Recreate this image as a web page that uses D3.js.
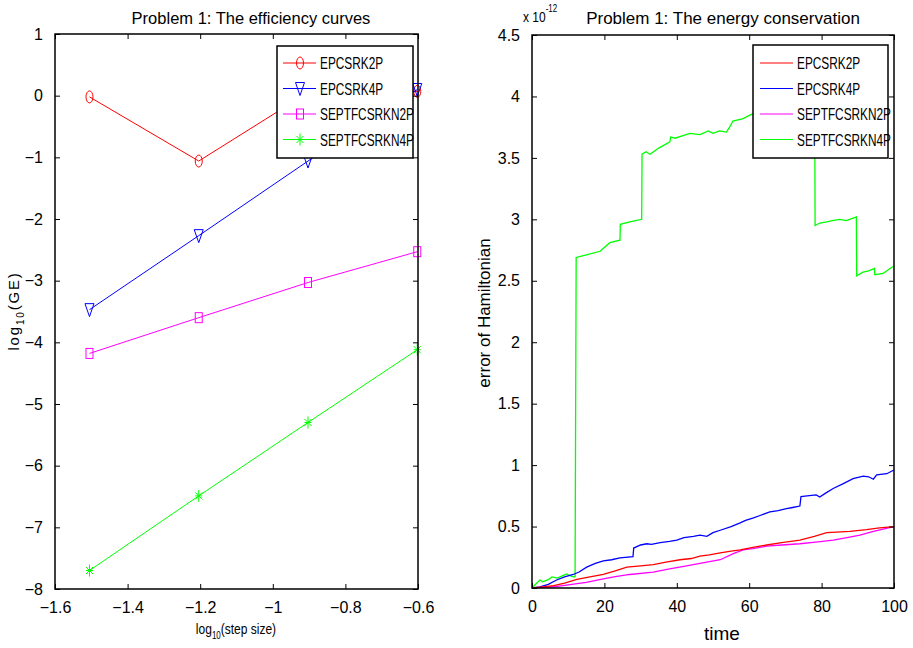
<!DOCTYPE html>
<html lang="en">
<head>
<meta charset="UTF-8">
<title>Problem 1</title>
<style>
    body { margin: 0; background: #fff; font-family: "Liberation Sans", Arial, sans-serif; }
    .frame { fill: none; stroke: #000; stroke-width: 1.5px; }
    .tick line { stroke: #000; stroke-width: 1px; }
    .tick text { font-size: 16px; fill: #000; }
</style>
<script src="https://d3js.org/d3.v7.min.js"></script>
</head>
<body>
<svg width="913" height="648"></svg>
<script>
// ---- left panel: efficiency curves ----
var stepSize = [-1.505, -1.204, -0.903, -0.602];
var ge_EPCSRK2P = [-0.02, -1.06, 0.05, 0.07];
var ge_EPCSRK4P = [-3.47, -2.27, -1.06, 0.1];
var ge_SEPTFCSRKN2P = [-4.18, -3.6, -3.03, -2.53];
var ge_SEPTFCSRKN4P = [-7.7, -6.49, -5.3, -4.12];
var leftXTicks = [-1.6, -1.4, -1.2, -1, -0.8, -0.6];
var leftYTicks = [1, 0, -1, -2, -3, -4, -5, -6, -7, -8];

// ---- right panel: energy conservation (units of 1e-12) ----
var t_EPCSRK2P = [0, 3, 6, 9, 12.4, 16, 19.7, 23, 26.2, 30, 33.5, 37, 40.9, 44, 46.4, 49, 52, 55, 57.5, 61, 64.8, 69, 74, 78, 81.4, 84, 87.8, 92.4, 96, 100];
var h_EPCSRK2P = [0, 0.01, 0.02, 0.04, 0.07, 0.09, 0.11, 0.14, 0.17, 0.18, 0.19, 0.21, 0.23, 0.24, 0.26, 0.27, 0.285, 0.3, 0.31, 0.33, 0.35, 0.37, 0.39, 0.42, 0.45, 0.455, 0.46, 0.475, 0.49, 0.5];
var t_EPCSRK4P = [0, 2.2, 4.5, 6.8, 9, 11.4, 13, 15.1, 17.5, 19.7, 22, 24.3, 27.9, 28.1, 30, 31.7, 33, 35.4, 38, 40, 42, 44.6, 46.4, 48.3, 50, 52, 55, 57.5, 59, 61.2, 63, 65.7, 68, 70.3, 72, 74, 74.3, 76, 78.5, 79.5, 81, 83.2, 86, 88.7, 91.5, 93, 94.3, 95.2, 98, 100];
var h_EPCSRK4P = [0, 0.01, 0.03, 0.065, 0.09, 0.11, 0.13, 0.17, 0.2, 0.22, 0.23, 0.245, 0.255, 0.325, 0.35, 0.36, 0.355, 0.37, 0.38, 0.39, 0.41, 0.42, 0.43, 0.42, 0.45, 0.47, 0.5, 0.53, 0.55, 0.57, 0.59, 0.62, 0.63, 0.645, 0.655, 0.667, 0.743, 0.75, 0.757, 0.74, 0.77, 0.81, 0.85, 0.89, 0.91, 0.905, 0.885, 0.92, 0.93, 0.96];
var t_SEPTFCSRKN2P = [0, 3, 6, 10, 15, 19, 22.6, 27, 33.5, 38, 42.7, 46.4, 52, 55.6, 58.3, 61, 64.8, 69, 74, 79, 83.2, 87, 90.6, 94.3, 97, 100];
var h_SEPTFCSRKN2P = [0, 0.005, 0.01, 0.025, 0.045, 0.07, 0.09, 0.11, 0.13, 0.155, 0.18, 0.2, 0.23, 0.28, 0.31, 0.32, 0.34, 0.35, 0.36, 0.375, 0.39, 0.41, 0.43, 0.46, 0.48, 0.5];
var t_SEPTFCSRKN4P = [0, 1, 2.2, 3, 4.6, 5.5, 7, 8.5, 9.6, 10.5, 11.4, 11.9, 12.2, 15, 18.8, 21.5, 24.3, 24.4, 27, 30.3, 30.4, 31.5, 32.6, 35, 38.1, 38.3, 39.5, 41.5, 43.6, 46.4, 48.7, 50, 51.8, 53.7, 54.6, 55.5, 58.3, 61, 64, 68, 72, 75, 78.1, 78.2, 79.5, 81.4, 83, 85, 86.8, 88.7, 89.6, 89.7, 91.4, 93, 94.6, 94.7, 97, 98.9, 100];
var h_SEPTFCSRKN4P = [0, 0.03, 0.065, 0.05, 0.07, 0.09, 0.08, 0.1, 0.114, 0.1, 0.09, 0.09, 2.69, 2.71, 2.74, 2.81, 2.83, 2.96, 2.98, 3.0, 3.53, 3.55, 3.53, 3.58, 3.63, 3.67, 3.66, 3.68, 3.7, 3.69, 3.72, 3.7, 3.72, 3.71, 3.75, 3.8, 3.82, 3.86, 3.89, 3.93, 3.96, 3.98, 3.98, 2.95, 2.97, 2.98, 2.99, 3.0, 2.99, 3.01, 3.02, 2.54, 2.57, 2.58, 2.6, 2.55, 2.56, 2.6, 2.62];
var rightXTicks = [0, 20, 40, 60, 80, 100];
var rightYTicks = [0, 0.5, 1, 1.5, 2, 2.5, 3, 3.5, 4, 4.5];

var names = ["EPCSRK2P", "EPCSRK4P", "SEPTFCSRKN2P", "SEPTFCSRKN4P"];
var colors = ["#ff0000", "#0000ff", "#ff00ff", "#00ff00"];

var svg = d3.select("svg");

function drawFrame(x, y, xTicks, yTicks, xFmt, yFmt) {
    var x0 = x.range()[0], x1 = x.range()[1], y0 = y.range()[0], y1 = y.range()[1];
    var g = svg.append("g");
    g.append("g").attr("transform", "translate(0," + y0 + ")")
        .call(d3.axisBottom(x).tickValues(xTicks).tickSize(-5).tickSizeOuter(0).tickPadding(13).tickFormat(xFmt))
        .call(function(a) { a.select(".domain").remove(); });
    g.append("g").attr("transform", "translate(0," + y1 + ")")
        .call(d3.axisTop(x).tickValues(xTicks).tickSize(-5).tickSizeOuter(0).tickFormat(""))
        .call(function(a) { a.select(".domain").remove(); });
    g.append("g").attr("transform", "translate(" + x0 + ",0)")
        .call(d3.axisLeft(y).tickValues(yTicks).tickSize(-5).tickSizeOuter(0).tickPadding(12).tickFormat(yFmt))
        .call(function(a) { a.select(".domain").remove(); });
    g.append("g").attr("transform", "translate(" + x1 + ",0)")
        .call(d3.axisRight(y).tickValues(yTicks).tickSize(-5).tickSizeOuter(0).tickFormat(""))
        .call(function(a) { a.select(".domain").remove(); });
    g.append("rect").attr("class", "frame")
        .attr("x", x0).attr("y", y1).attr("width", x1 - x0).attr("height", y0 - y1);
    return g;
}

function marker(sel, k, color) {
    if (k === 0) {
        sel.append("ellipse").attr("rx", 3.5).attr("ry", 6)
            .attr("fill", "none").attr("stroke", color);
    } else if (k === 1) {
        sel.append("path").attr("d", "M-4.5,-6L4.5,-6L0,7Z")
            .attr("fill", "none").attr("stroke", color);
    } else if (k === 2) {
        sel.append("rect").attr("x", -3.5).attr("y", -5).attr("width", 7).attr("height", 10)
            .attr("fill", "none").attr("stroke", color);
    } else {
        sel.append("path").attr("d", "M0,-6V6M-3.5,-3.5L3.5,3.5M-3.5,3.5L3.5,-3.5M-3.5,0H3.5")
            .attr("fill", "none").attr("stroke", color);
    }
}

// condensed text (no narrow font installed, so squeeze horizontally)
function narrowText(parent, x, y, size, sx) {
    return parent.append("text")
        .attr("transform", "translate(" + x + "," + y + ") scale(" + sx + ",1)")
        .style("font-size", size + "px");
}

// ===== left panel =====
var xL = d3.scaleLinear().domain([-1.6, -0.6]).range([55, 418]);
var yL = d3.scaleLinear().domain([-8, 1]).range([589, 34]);

var leftSeries = [ge_EPCSRK2P, ge_EPCSRK4P, ge_SEPTFCSRKN2P, ge_SEPTFCSRKN4P];
var lineL = d3.line().x(function(d) { return xL(d[0]); }).y(function(d) { return yL(d[1]); });

leftSeries.forEach(function(vals, k) {
    var pts = stepSize.map(function(s, i) { return [s, vals[i]]; });
    svg.append("path").attr("d", lineL(pts)).attr("fill", "none")
        .attr("stroke", colors[k]).attr("stroke-width", 1);
    pts.forEach(function(p) {
        var m = svg.append("g").attr("transform", "translate(" + xL(p[0]) + "," + yL(p[1]) + ")");
        marker(m, k, colors[k]);
    });
});

drawFrame(xL, yL, leftXTicks, leftYTicks, d3.format(""), d3.format("d"));

svg.append("text").attr("x", 251).attr("y", 24).attr("text-anchor", "middle")
    .style("font-size", "16.5px").text("Problem 1: The efficiency curves");

var xlab = narrowText(svg, 236, 634, 15, 0.8).attr("text-anchor", "middle");
xlab.append("tspan").text("log");
xlab.append("tspan").attr("dy", 5).style("font-size", "10px").text("10");
xlab.append("tspan").attr("dy", -5).text("(step size)");

var ylab = svg.append("text").attr("transform", "translate(19,311) rotate(-90)")
    .attr("text-anchor", "middle").style("font-size", "15px").style("letter-spacing", "1.8px");
ylab.append("tspan").text("log");
ylab.append("tspan").attr("dy", 5).style("font-size", "10px").text("10");
ylab.append("tspan").attr("dy", -5).text("(GE)");

// legend left
var legL = svg.append("g");
legL.append("rect").attr("x", 277).attr("y", 46).attr("width", 136).attr("height", 112)
    .attr("fill", "#fff").attr("stroke", "#000").attr("stroke-width", 1.5);
names.forEach(function(n, k) {
    var yy = 63 + k * 25.5;
    legL.append("line").attr("x1", 283).attr("x2", 316).attr("y1", yy).attr("y2", yy)
        .attr("stroke", colors[k]);
    var m = legL.append("g").attr("transform", "translate(300," + yy + ")");
    marker(m, k, colors[k]);
    narrowText(legL, 320, yy + 6, 16, 0.74).text(n);
});

// ===== right panel =====
var xR = d3.scaleLinear().domain([0, 100]).range([532, 894]);
var yR = d3.scaleLinear().domain([0, 4.5]).range([588, 35]);

var rightT = [t_EPCSRK2P, t_EPCSRK4P, t_SEPTFCSRKN2P, t_SEPTFCSRKN4P];
var rightH = [h_EPCSRK2P, h_EPCSRK4P, h_SEPTFCSRKN2P, h_SEPTFCSRKN4P];
var lineR = d3.line().x(function(d) { return xR(d[0]); }).y(function(d) { return yR(d[1]); });

[3, 1, 2, 0].forEach(function(k) {
    var pts = rightT[k].map(function(t, i) { return [t, rightH[k][i]]; });
    svg.append("path").attr("d", lineR(pts)).attr("fill", "none")
        .attr("stroke", colors[k]).attr("stroke-width", 1.3);
});

drawFrame(xR, yR, rightXTicks, rightYTicks, d3.format("d"), d3.format("~g"));

svg.append("text").attr("x", 723).attr("y", 24).attr("text-anchor", "middle")
    .style("font-size", "17px").text("Problem 1: The energy conservation");

var expo = narrowText(svg, 523, 22, 15, 0.8);
expo.append("tspan").text("x 10");
expo.append("tspan").attr("dy", -10).style("font-size", "10px").text("-12");

svg.append("text").attr("x", 722).attr("y", 640).attr("text-anchor", "middle")
    .style("font-size", "19px").text("time");

svg.append("text").attr("transform", "translate(490,313) rotate(-90)")
    .attr("text-anchor", "middle").style("font-size", "17px").text("error of Hamiltonian");

// legend right
var legR = svg.append("g");
legR.append("rect").attr("x", 753).attr("y", 45).attr("width", 135).attr("height", 113)
    .attr("fill", "#fff").attr("stroke", "#000").attr("stroke-width", 1.5);
names.forEach(function(n, k) {
    var yy = 63 + k * 25.5;
    legR.append("line").attr("x1", 760).attr("x2", 793).attr("y1", yy).attr("y2", yy)
        .attr("stroke", colors[k]);
    narrowText(legR, 797, yy + 6, 16, 0.74).text(n);
});
</script>
</body>
</html>
